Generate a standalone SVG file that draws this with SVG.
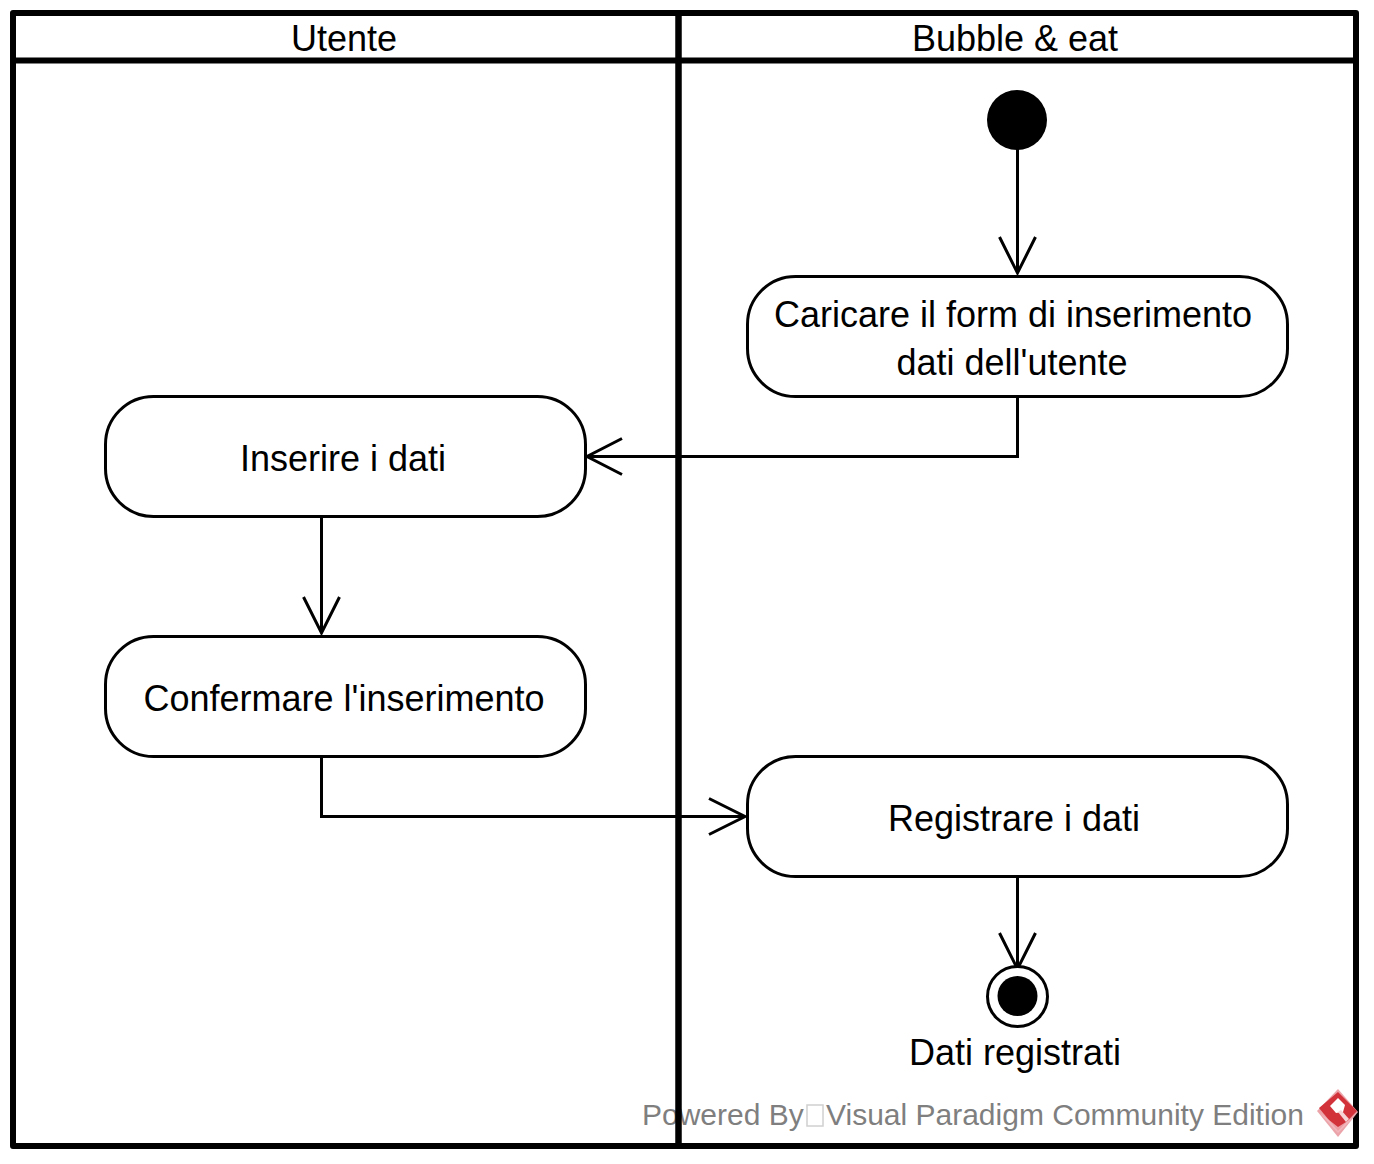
<svg xmlns="http://www.w3.org/2000/svg" width="1374" height="1164" viewBox="0 0 1374 1164">
<style>
text{font-family:"Liberation Sans",Arial,sans-serif;font-size:36px;fill:#000;text-anchor:middle}
.wm{font-size:30px;fill:#7f7f7f;text-anchor:start}
.lane{fill:none;stroke:#000;stroke-width:6;stroke-linejoin:round}
.act{fill:#fff;stroke:#000;stroke-width:3}
.edge{fill:none;stroke:#000;stroke-width:3}
</style>
<rect width="1374" height="1164" fill="#fff"/>
<g id="watermark">
<text class="wm" x="642" y="1125">Powered By</text>
<rect x="807" y="1105" width="16" height="21" fill="#fff" stroke="#d0d0d0" stroke-width="1.500"/>
<text class="wm" x="826" y="1125">Visual Paradigm Community Edition</text>
</g>
<g id="lane-utente">
<rect class="lane" x="13" y="13" width="665.500" height="1133"/>
<line class="lane" x1="13" y1="60.500" x2="678.500" y2="60.500"/>
<text x="344" y="51">Utente</text>
</g>
<g id="lane-bubble">
<rect class="lane" x="678.500" y="13" width="677.500" height="1133"/>
<line class="lane" x1="678.500" y1="60.500" x2="1356" y2="60.500"/>
<text x="1015" y="51">Bubble &amp; eat</text>
</g>
<g id="logo">
<path d="M1338 1089L1358 1112L1338 1137L1317 1111Z" fill="#eba4aa"/>
<path d="M1338 1092L1357 1111L1338 1131L1319 1108Z" fill="#d2333b"/>
<path d="M1320 1113L1338 1133L1354 1117L1338 1127Z" fill="#f2bcc0" opacity=".8"/>
<path d="M1338 1098L1345 1105L1343 1112L1336 1113L1330 1106Z" fill="#fff"/>
<path d="M1338 1112L1341 1110L1349 1119L1346 1122Z" fill="#f6d5d7"/>
</g>
<g id="connectors">
<path class="edge" d="M1017.500 149V273M999.500 237L1017.500 273L1035.500 237"/>
<path class="edge" d="M1017.500 396V456.500H587M622 438.500L587 456.500L622 474.500"/>
<path class="edge" d="M321.500 516V633M303.500 597L321.500 633L339.500 597"/>
<path class="edge" d="M321.500 756V816.500H745M709 798.500L745 816.500L709 834.500"/>
<path class="edge" d="M1017.500 876V969M999.500 933L1017.500 969L1035.500 933"/>
</g>
<g id="start"><circle cx="1017" cy="120" r="30" fill="#000"/></g>
<g id="caricare">
<rect class="act" x="747.500" y="276.500" width="540" height="120" rx="48" ry="48"/>
<text x="1013" y="327">Caricare il form di inserimento</text>
<text x="1012" y="375">dati dell'utente</text>
</g>
<g id="inserire">
<rect class="act" x="105.500" y="396.500" width="480" height="120" rx="48" ry="48"/>
<text x="343" y="471">Inserire i dati</text>
</g>
<g id="confermare">
<rect class="act" x="105.500" y="636.500" width="480" height="120" rx="48" ry="48"/>
<text x="344" y="711">Confermare l'inserimento</text>
</g>
<g id="registrare">
<rect class="act" x="747.500" y="756.500" width="540" height="120" rx="48" ry="48"/>
<text x="1014" y="831">Registrare i dati</text>
</g>
<g id="end">
<circle cx="1017.500" cy="996.500" r="30" fill="#fff" stroke="#000" stroke-width="3"/>
<circle cx="1017.500" cy="996" r="20" fill="#000"/>
<text x="1015" y="1065">Dati registrati</text>
</g>
</svg>
